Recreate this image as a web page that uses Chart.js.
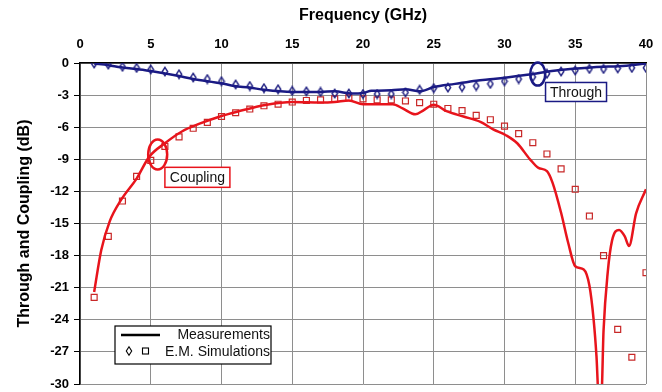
<!DOCTYPE html>
<html>
<head>
<meta charset="utf-8">
<script src="https://cdn.jsdelivr.net/npm/chart.js@4.4.1/dist/chart.umd.min.js"></script>
<style>
  html, body { margin: 0; padding: 0; background: #fff; }
  #wrap { width: 662px; height: 392px; }
</style>
</head>
<body>
<div id="wrap"><canvas id="chart"></canvas></div>
<script>
// ---------- DATA ----------
const throughMeasFreq = [1, 2, 2.9, 4, 5, 6.9, 8, 10, 10.9, 12, 13, 15, 17, 18, 19.2, 20, 20.6, 22, 23, 24, 25, 26.5, 28, 29.2, 31.6, 33.9, 36.3, 38.6, 40];
const throughMeasDb   = [-0.05, -0.2, -0.4, -0.55, -0.75, -1.2, -1.5, -1.9, -2.15, -2.3, -2.5, -2.7, -2.7, -2.65, -2.85, -2.8, -2.6, -2.55, -2.45, -2.65, -2.25, -1.95, -1.65, -1.5, -1.1, -0.65, -0.4, -0.25, -0.05];

const couplingMeasFreq = [1, 1.5, 2.1, 2.9, 4, 4.9, 6, 7.2, 8.5, 10, 11.1, 13.2, 15, 17, 18, 19, 20, 21, 22.1, 22.8, 23.7, 24.3, 25, 25.9, 27.1, 28.3, 29.2, 30.1, 30.9, 31.8, 32.4, 33.0, 33.4, 34, 34.5, 35, 35.6, 36, 36.3, 36.5, 36.65, 36.85, 37, 37.3, 37.6, 38.1, 38.5, 38.8, 39.3, 40];
const couplingMeasDb   = [-21.4, -17.5, -14.8, -12.8, -10.8, -8.75, -7.5, -6.4, -5.65, -4.95, -4.55, -3.9, -3.65, -3.7, -3.65, -3.5, -3.85, -3.85, -3.85, -4.25, -4.8, -4.4, -3.9, -4.5, -5.0, -5.5, -6.2, -6.75, -7.5, -9.0, -9.8, -10.1, -11.2, -14.0, -16.8, -19.0, -19.3, -20.8, -24.0, -27.4, -31, -31, -25.0, -19.5, -16.6, -15.6, -16.2, -17.1, -14.05, -11.8];

const simFreq = [1, 2, 3, 4, 5, 6, 7, 8, 9, 10, 11, 12, 13, 14, 15, 16, 17, 18, 19, 20, 21, 22, 23, 24, 25, 26, 27, 28, 29, 30, 31, 32, 33, 34, 35, 36, 37, 38, 39, 40];
const throughSimDb  = [-0.05, -0.15, -0.35, -0.45, -0.6, -0.8, -1.05, -1.35, -1.5, -1.7, -2.0, -2.15, -2.35, -2.45, -2.6, -2.65, -2.7, -2.85, -2.85, -2.9, -2.9, -2.9, -2.75, -2.5, -2.35, -2.3, -2.25, -2.15, -1.95, -1.7, -1.5, -1.3, -1.0, -0.8, -0.7, -0.55, -0.55, -0.5, -0.45, -0.45];
const couplingSimDb = [-21.9, -16.2, -12.9, -10.6, -9.1, -7.8, -6.9, -6.1, -5.55, -5.0, -4.65, -4.3, -4.0, -3.85, -3.65, -3.5, -3.45, -3.35, -3.25, -3.35, -3.45, -3.45, -3.55, -3.7, -3.85, -4.25, -4.45, -4.9, -5.3, -5.9, -6.6, -7.45, -8.5, -9.9, -11.8, -14.3, -18.0, -24.9, -27.5, -19.6];

const freqTicks = [0, 5, 10, 15, 20, 25, 30, 35, 40];
const dbTicks = [0, -3, -6, -9, -12, -15, -18, -21, -24, -27, -30];

const NAVY = '#1a1a84';
const RED = '#e8141c';
const FONT = '"Liberation Sans", Arial, sans-serif';

function pairs(xs, ys) { return xs.map((x, i) => ({ x: x, y: ys[i] })); }

// narrow hollow diamond used for the "through" simulation points
function diamondPath(ctx, x, y, hw, hh) {
    ctx.beginPath();
    ctx.moveTo(x, y - hh); ctx.lineTo(x + hw, y); ctx.lineTo(x, y + hh); ctx.lineTo(x - hw, y); ctx.closePath();
}
const diamondImg = document.createElement('canvas');
diamondImg.width = 8; diamondImg.height = 11;
(function () {
    const c = diamondImg.getContext('2d');
    c.strokeStyle = '#1e1e80';
    c.lineWidth = 1.4;
    diamondPath(c, 4, 5.5, 2.7, 4.2);
    c.stroke();
})();

// callouts (ellipse + labelled box), anchored in data units
const callouts = [
    { text: 'Through', color: NAVY, cx: 32.35, cy: -1.03, rx: 7.5, ry: 11.6, bx: 32.9, by: -1.82, bw: 61, bh: 19 },
    { text: 'Coupling', color: RED, cx: 5.49, cy: -8.55, rx: 9.5, ry: 15, bx: 6.0, by: -9.75, bw: 65, bh: 20 }
];

const overlayPlugin = {
    id: 'overlay',
    afterDatasetsDraw(chart) {
        const ctx = chart.ctx, xs = chart.scales.x, ys = chart.scales.y, area = chart.chartArea;
        ctx.save();
        callouts.forEach(c => {
            ctx.strokeStyle = c.color;
            ctx.lineWidth = 2.5;
            ctx.beginPath();
            ctx.ellipse(xs.getPixelForValue(c.cx), ys.getPixelForValue(c.cy), c.rx, c.ry, 0, 0, Math.PI * 2);
            ctx.stroke();
            const bx = xs.getPixelForValue(c.bx), by = ys.getPixelForValue(c.by);
            ctx.fillStyle = '#fff';
            ctx.fillRect(bx, by, c.bw, c.bh);
            ctx.lineWidth = 1.5;
            ctx.strokeRect(bx, by, c.bw, c.bh);
            ctx.fillStyle = '#111';
            ctx.font = '14px ' + FONT;
            ctx.textAlign = 'center';
            ctx.textBaseline = 'middle';
            ctx.fillText(c.text, bx + c.bw / 2, by + c.bh / 2 + 1);
        });

        // legend box
        const lx = area.left + 35, ly = area.bottom - 58, lw = 156, lh = 38;
        ctx.fillStyle = '#fff';
        ctx.fillRect(lx, ly, lw, lh);
        ctx.strokeStyle = '#000';
        ctx.lineWidth = 1.2;
        ctx.strokeRect(lx, ly, lw, lh);
        ctx.lineWidth = 2.5;
        ctx.beginPath();
        ctx.moveTo(lx + 6, ly + 9);
        ctx.lineTo(lx + 45, ly + 9);
        ctx.stroke();
        ctx.lineWidth = 1.1;
        diamondPath(ctx, lx + 14, ly + 25, 2.7, 4.2);
        ctx.stroke();
        ctx.strokeRect(lx + 27.5, ly + 22, 6, 6);
        ctx.fillStyle = '#111';
        ctx.font = '14px ' + FONT;
        ctx.textAlign = 'right';
        ctx.textBaseline = 'middle';
        ctx.fillText('Measurements', lx + lw - 1, ly + 9);
        ctx.fillText('E.M. Simulations', lx + lw - 1, ly + 26);
        ctx.restore();
    }
};

function noEdgePadding(s) {
    s.paddingLeft = 0; s.paddingRight = 0; s.paddingTop = 0; s.paddingBottom = 0;
}

new Chart(document.getElementById('chart'), {
    type: 'scatter',
    data: {
        datasets: [
            { label: 'Through (meas.)', data: pairs(throughMeasFreq, throughMeasDb), showLine: true, borderColor: NAVY, borderWidth: 2.5, pointRadius: 0, cubicInterpolationMode: 'monotone' },
            { label: 'Coupling (meas.)', data: pairs(couplingMeasFreq, couplingMeasDb), showLine: true, borderColor: RED, borderWidth: 2.5, pointRadius: 0, cubicInterpolationMode: 'monotone' },
            { label: 'Through (sim.)', data: pairs(simFreq, throughSimDb), pointStyle: diamondImg },
            { label: 'Coupling (sim.)', data: pairs(simFreq, couplingSimDb), pointStyle: 'rect', pointRadius: 4.2, borderColor: '#c82828', backgroundColor: 'rgba(255,255,255,0)', borderWidth: 1.2 }
        ]
    },
    options: {
        responsive: true,
        maintainAspectRatio: false,
        animation: false,
        layout: { padding: { left: 0, top: 0, right: 16, bottom: 8 } },
        plugins: { legend: { display: false }, tooltip: { enabled: false } },
        scales: {
            x: {
                type: 'linear', position: 'top', min: 0, max: 40,
                afterFit: s => { s.height = 63; noEdgePadding(s); },
                afterBuildTicks: s => { s.ticks = freqTicks.map(v => ({ value: v })); },
                ticks: { color: '#000', font: { family: FONT, size: 13, weight: 'bold' }, padding: 11, maxRotation: 0 },
                grid: { color: '#8e8e8e', lineWidth: 1, drawTicks: false },
                border: { color: '#000', width: 1.5 },
                title: { display: true, text: 'Frequency (GHz)', color: '#000', font: { family: FONT, size: 16, weight: 'bold' }, padding: { top: 6, bottom: 0 } }
            },
            y: {
                type: 'linear', min: -30, max: 0,
                afterFit: s => { s.width = 80; noEdgePadding(s); },
                afterBuildTicks: s => { s.ticks = dbTicks.map(v => ({ value: v })); },
                ticks: { color: '#000', font: { family: FONT, size: 13, weight: 'bold' }, padding: 5 },
                grid: { color: '#8e8e8e', lineWidth: 1, tickLength: 6, tickColor: '#000' },
                border: { color: '#000', width: 1.5 },
                title: { display: true, text: 'Through and Coupling (dB)', color: '#000', font: { family: FONT, size: 16, weight: 'bold' }, padding: { top: 15, bottom: 0 } }
            }
        }
    },
    plugins: [overlayPlugin]
});
</script>
</body>
</html>
